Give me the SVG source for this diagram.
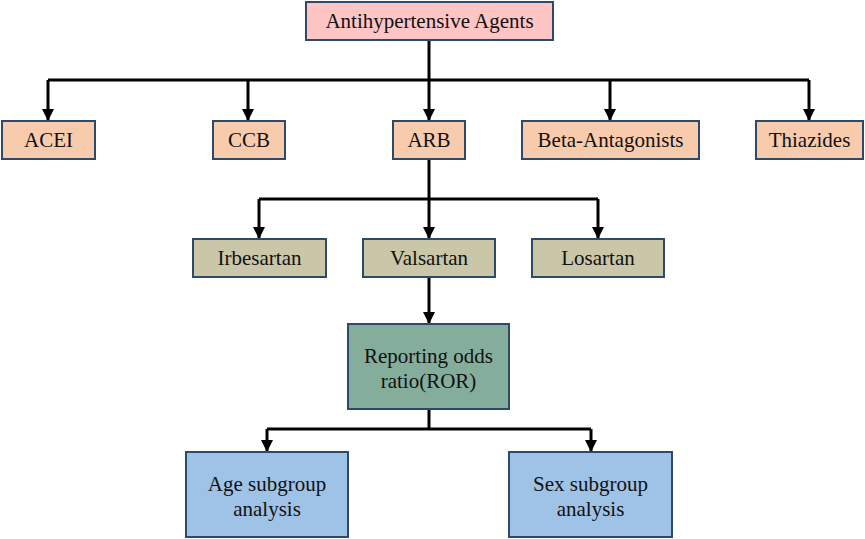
<svg xmlns="http://www.w3.org/2000/svg" width="865" height="539" viewBox="0 0 865 539">
<defs>
<style>
.box{stroke:#2E4A6B;stroke-width:2}
.t{font-family:"Liberation Serif","Times New Roman",serif;font-size:21px;fill:#111;text-anchor:middle}
.c{fill:none;stroke:#000;stroke-width:3}
.pink{fill:#FFC5C5}
.peach{fill:#F8CBAD}
.olive{fill:#C9C7A8}
.green{fill:#84AE9B}
.blue{fill:#9FC3E7}
</style>
<marker id="ah" viewBox="0 0 10 10" refX="10" refY="5" markerWidth="4" markerHeight="4" markerUnits="strokeWidth" orient="auto">
<path d="M0,0 L10,5 L0,10 Z" fill="#000"/>
</marker>
</defs>
<rect width="865" height="539" fill="#fff"/>
<g id="connectors">
<path class="c" d="M429,40 V80"/>
<path class="c" d="M48,80 H809"/>
<path class="c" d="M48,80 V121" marker-end="url(#ah)"/>
<path class="c" d="M248,80 V121" marker-end="url(#ah)"/>
<path class="c" d="M429,80 V121" marker-end="url(#ah)"/>
<path class="c" d="M610,80 V121" marker-end="url(#ah)"/>
<path class="c" d="M809,80 V121" marker-end="url(#ah)"/>
<path class="c" d="M429,159 V199"/>
<path class="c" d="M259,199 H598"/>
<path class="c" d="M259,199 V239" marker-end="url(#ah)"/>
<path class="c" d="M429,199 V239" marker-end="url(#ah)"/>
<path class="c" d="M598,199 V239" marker-end="url(#ah)"/>
<path class="c" d="M429,277 V324" marker-end="url(#ah)"/>
<path class="c" d="M429,409 V429"/>
<path class="c" d="M267,429 H591"/>
<path class="c" d="M267,429 V452" marker-end="url(#ah)"/>
<path class="c" d="M591,429 V452" marker-end="url(#ah)"/>
</g>
<g id="antihypertensive">
<rect class="box pink" x="306" y="2" width="247" height="38"/>
<text class="t" x="429.5" y="28">Antihypertensive Agents</text>
</g>
<g id="acei">
<rect class="box peach" x="2" y="121" width="93" height="38"/>
<text class="t" x="48.5" y="147">ACEI</text>
</g>
<g id="ccb">
<rect class="box peach" x="213" y="121" width="72" height="38"/>
<text class="t" x="249" y="147">CCB</text>
</g>
<g id="arb">
<rect class="box peach" x="393" y="121" width="72" height="38"/>
<text class="t" x="429" y="147">ARB</text>
</g>
<g id="beta">
<rect class="box peach" x="522" y="121" width="177" height="38"/>
<text class="t" x="610.5" y="147">Beta-Antagonists</text>
</g>
<g id="thiazides">
<rect class="box peach" x="756" y="121" width="107" height="38"/>
<text class="t" x="809.5" y="147">Thiazides</text>
</g>
<g id="irbesartan">
<rect class="box olive" x="193" y="239" width="133" height="38"/>
<text class="t" x="259.5" y="265">Irbesartan</text>
</g>
<g id="valsartan">
<rect class="box olive" x="363" y="239" width="132" height="38"/>
<text class="t" x="429" y="265">Valsartan</text>
</g>
<g id="losartan">
<rect class="box olive" x="532" y="239" width="132" height="38"/>
<text class="t" x="598" y="265">Losartan</text>
</g>
<g id="ror">
<rect class="box green" x="348" y="324" width="161" height="85"/>
<text class="t" x="428.5" y="363">Reporting odds</text>
<text class="t" x="428.5" y="388">ratio(ROR)</text>
</g>
<g id="age">
<rect class="box blue" x="186" y="452" width="162" height="85"/>
<text class="t" x="267" y="491">Age subgroup</text>
<text class="t" x="267" y="516">analysis</text>
</g>
<g id="sex">
<rect class="box blue" x="509" y="452" width="163" height="85"/>
<text class="t" x="590.5" y="491">Sex subgroup</text>
<text class="t" x="590.5" y="516">analysis</text>
</g>
</svg>
